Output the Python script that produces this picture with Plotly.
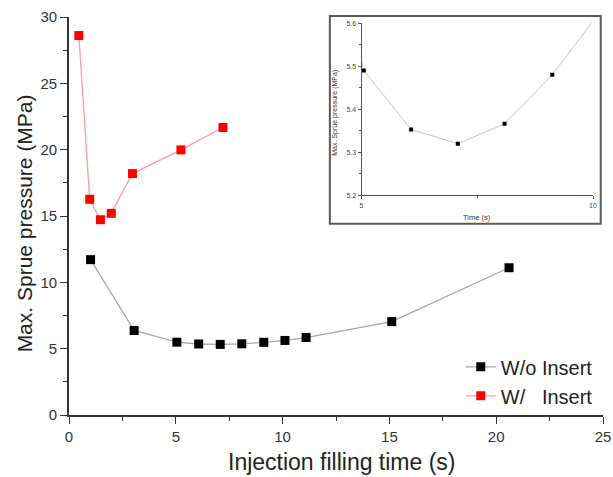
import plotly.graph_objects as go

# Injection filling time (s) and max. sprue pressure (MPa)
time_wo = [1.01, 3.05, 5.05, 6.07, 7.08, 8.09, 9.12, 10.11, 11.1, 15.11, 20.6]
pres_wo = [11.71, 6.37, 5.49, 5.353, 5.32, 5.366, 5.48, 5.62, 5.84, 7.04, 11.1]

time_w = [0.46, 0.97, 1.47, 1.98, 2.97, 5.24, 7.21]
pres_w = [28.6, 16.26, 14.72, 15.2, 18.2, 19.98, 21.67]

main_xticks = [0, 5, 10, 15, 20, 25]
main_yticks = [0, 5, 10, 15, 20, 25, 30]
inset_xticks = [5, 10]
inset_yticks = [5.2, 5.3, 5.4, 5.5, 5.6]

FONT = "Liberation Sans, Arial, sans-serif"
AX = "#333333"

fig = go.Figure()

fig.add_trace(go.Scatter(
    x=time_wo, y=pres_wo, name="W/o Insert", mode="lines+markers",
    line=dict(color="#a6a6a6", width=1.3),
    marker=dict(symbol="square", size=9, color="#000000"),
    xaxis="x", yaxis="y", cliponaxis=False,
))
fig.add_trace(go.Scatter(
    x=time_w, y=pres_w, name="W/   Insert", mode="lines+markers",
    line=dict(color="#ff9c9c", width=1.3),
    marker=dict(symbol="square", size=9, color="#ff0000"),
    xaxis="x", yaxis="y", cliponaxis=False,
))

# zoomed view of the minimum region
fig.add_trace(go.Scatter(
    x=time_wo, y=pres_wo, mode="lines+markers", showlegend=False,
    line=dict(color="#c4c4c4", width=1),
    marker=dict(symbol="square", size=4, color="#000000"),
    xaxis="x2", yaxis="y2",
))

W, H = 613, 477
L, R, T, B = 69, 603.3, 16.6, 414.7
pw, ph = R - L, B - T


def px_x(p):
    return (p - L) / pw


def px_y(p):
    return (B - p) / ph


main_axis = dict(
    showline=True, linecolor=AX, linewidth=1.6, mirror=False,
    ticks="outside", ticklen=7, tickwidth=1.4, tickcolor=AX,
    showgrid=False, zeroline=False, automargin=False,
    tickfont=dict(family=FONT, size=15, color=AX),
)

inset_axis = dict(
    showline=True, linecolor="#555555", linewidth=1, mirror=False,
    ticks="outside", ticklen=3, tickwidth=1, tickcolor="#555555",
    showgrid=False, zeroline=False, automargin=False,
    tickfont=dict(family=FONT, size=7, color="#444444"),
)

fig.update_layout(
    width=W, height=H,
    margin=dict(l=L, r=W - R, t=T, b=H - B, pad=0, autoexpand=False),
    paper_bgcolor="white", plot_bgcolor="white",
    font=dict(family=FONT, color="#222222"),
    xaxis=dict(**main_axis, range=[0, 25], tickvals=main_xticks,
               minor=dict(dtick=2.5, tick0=0, ticks="outside", ticklen=4,
                          tickcolor=AX, tickwidth=1.2),
               domain=[0, 1]),
    yaxis=dict(**main_axis, range=[0, 30], tickvals=main_yticks,
               minor=dict(dtick=2.5, tick0=0, ticks="outside", ticklen=4,
                          tickcolor=AX, tickwidth=1.2),
               domain=[0, 1]),
    xaxis2=dict(**inset_axis, range=[5, 10], tickvals=inset_xticks,
                minor=dict(dtick=2.5, tick0=0, ticks="outside", ticklen=2,
                           tickcolor="#555555"),
                domain=[px_x(361.7), px_x(593.3)], anchor="y2"),
    yaxis2=dict(**inset_axis, range=[5.2, 5.6], tickvals=inset_yticks,
                minor=dict(dtick=0.05, tick0=5.2, ticks="outside", ticklen=2,
                           tickcolor="#555555"),
                domain=[px_y(195), px_y(22.7)], anchor="x2"),
    legend=dict(
        x=px_x(461), y=px_y(347), xanchor="left", yanchor="top",
        bgcolor="rgba(0,0,0,0)", borderwidth=0, tracegroupgap=0,
        font=dict(family=FONT, size=20, color="#222222"),
        traceorder="normal",
    ),
    showlegend=True,
)

# inset frame
fig.add_shape(type="rect", xref="paper", yref="paper",
              x0=px_x(330), x1=px_x(601), y0=px_y(223.3), y1=px_y(15.7),
              line=dict(color="#5a5a5a", width=2), fillcolor="white",
              layer="below")

annotations = [
    dict(text="Injection filling time (s)", x=px_x(342), y=px_y(462),
         font=dict(size=23, family=FONT, color="#222222")),
    dict(text="Max. Sprue pressure (MPa)", x=px_x(24), y=px_y(223),
         textangle=-90, font=dict(size=21, family=FONT, color="#222222")),
    dict(text="Time (s)", x=px_x(477.7), y=px_y(217),
         font=dict(size=7.5, family=FONT, color="#333333")),
    dict(text="Max. Sprue pressure (MPa)", x=px_x(335.5), y=px_y(112),
         textangle=-90, font=dict(size=7, family=FONT, color="#333333")),
]
for a in annotations:
    fig.add_annotation(xref="paper", yref="paper", showarrow=False,
                       xanchor="center", yanchor="middle", **a)

fig.write_html("out.html")
